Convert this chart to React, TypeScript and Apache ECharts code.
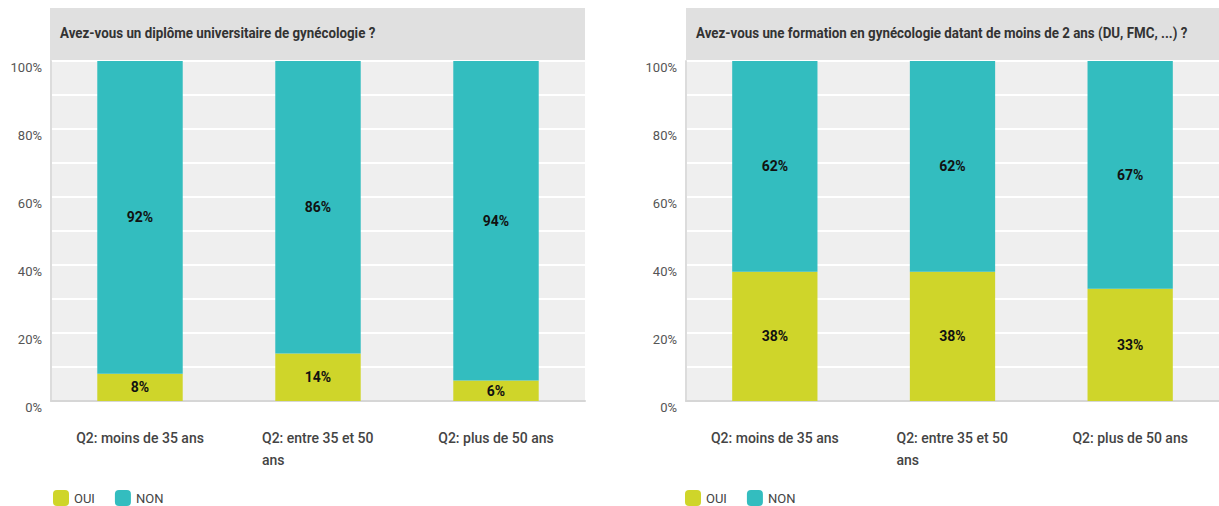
import React, { useEffect, useRef } from "react";
import * as echarts from "echarts";

const categories = ["Q2: moins de 35 ans", "Q2: entre 35 et 50 ans", "Q2: plus de 50 ans"];
const seriesNames = ["OUI", "NON"];
const leftTitle = "Avez-vous un diplôme universitaire de gynécologie ?";
const rightTitle = "Avez-vous une formation en gynécologie datant de moins de 2 ans (DU, FMC, ...) ?";
const leftOui = [8, 14, 6];
const leftNon = [92, 86, 94];
const rightOui = [38, 38, 33];
const rightNon = [62, 62, 67];

const FONT = "Roboto, 'Liberation Sans', sans-serif";
const C_OUI = "#cfd52a";
const C_NON = "#33bdbf";

function catLabel(v: string) {
  if (v.length > 20) {
    const i = v.lastIndexOf(" ");
    return `{a|${v.slice(0, i)}}\n{a|${v.slice(i + 1)}}`;
  }
  return v;
}

export default function App() {
  const ref = useRef<HTMLDivElement>(null);
  useEffect(() => {
    document.body.style.margin = "0";
    const chart = echarts.init(ref.current!, null, { renderer: "svg" });
    const grids = [
      { left: 51, top: 61, width: 534, height: 340 },
      { left: 686, top: 61, width: 534, height: 340 },
    ];
    const xAxis = grids.map((_, i) => ({
      type: "category",
      gridIndex: i,
      data: categories,
      axisTick: { show: false },
      axisLine: { show: true, lineStyle: { color: "#d6d6d6", width: 2 } },
      axisLabel: {
        interval: 0,
        fontFamily: FONT,
        fontSize: 14,
        fontWeight: 500,
        color: "#444",
        margin: 26,
        lineHeight: 22,
        formatter: catLabel,
        rich: { a: { width: 112, align: "left", fontFamily: FONT, fontSize: 14, fontWeight: 500, color: "#444", lineHeight: 22 } },
      },
    }));
    const yAxis = grids.map((_, i) => ({
      type: "value",
      gridIndex: i,
      min: 0,
      max: 100,
      interval: 10,
      axisLine: { show: true, lineStyle: { color: "#dcdcdc", width: 2 } },
      axisTick: { show: false },
      splitLine: { show: true, lineStyle: { color: "#ffffff", width: 2 } },
      axisLabel: {
        fontFamily: FONT,
        fontSize: 13,
        color: "#555",
        margin: 9,
        verticalAlign: "top",
        formatter: (v: number) => (v % 20 === 0 ? v + "%" : ""),
      },
    }));
    const mk = (name: string, data: number[], color: string, idx: number) => ({
      name,
      type: "bar",
      stack: "s" + idx,
      xAxisIndex: idx,
      yAxisIndex: idx,
      barWidth: "48%",
      data,
      itemStyle: { color },
      label: {
        show: true,
        position: "inside",
        formatter: "{c}%",
        fontFamily: FONT,
        fontSize: 14,
        fontWeight: "bold",
        color: "#111",
      },
    });
    const titleFont = "bold 15px Roboto, 'Liberation Sans', sans-serif";
    const legendBase = {
      orient: "horizontal",
      itemWidth: 16,
      itemHeight: 16,
      itemGap: 20,
      icon: "roundRect",
      textStyle: { fontFamily: FONT, fontSize: 13, color: "#444" },
      data: seriesNames,
      selectedMode: false,
    };
    chart.setOption({
      animation: false,
      backgroundColor: "#ffffff",
      grid: grids.map((g) => ({ ...g, show: true, backgroundColor: "#efefef", borderWidth: 0, containLabel: false })),
      graphic: [
        { type: "rect", shape: { x: 50, y: 8, width: 535, height: 53 }, style: { fill: "#e0e0e0" }, z: -1 },
        { type: "rect", shape: { x: 686, y: 8, width: 533, height: 53 }, style: { fill: "#e0e0e0" }, z: -1 },
        {
          type: "text", x: 60, y: 33, scaleX: 0.89,
          style: { text: leftTitle, font: titleFont, fill: "#333", textVerticalAlign: "middle" },
        },
        {
          type: "text", x: 696, y: 33, scaleX: 0.89,
          style: { text: rightTitle, font: titleFont, fill: "#333", textVerticalAlign: "middle" },
        },
      ],
      legend: [
        { ...legendBase, left: 48, top: 485 },
        { ...legendBase, left: 680, top: 485 },
      ],
      xAxis,
      yAxis,
      series: [
        mk(seriesNames[0], leftOui, C_OUI, 0),
        mk(seriesNames[1], leftNon, C_NON, 0),
        mk(seriesNames[0], rightOui, C_OUI, 1),
        mk(seriesNames[1], rightNon, C_NON, 1),
      ],
    });
    return () => chart.dispose();
  }, []);
  return <div ref={ref} style={{ width: 1219, height: 506 }} />;
}
